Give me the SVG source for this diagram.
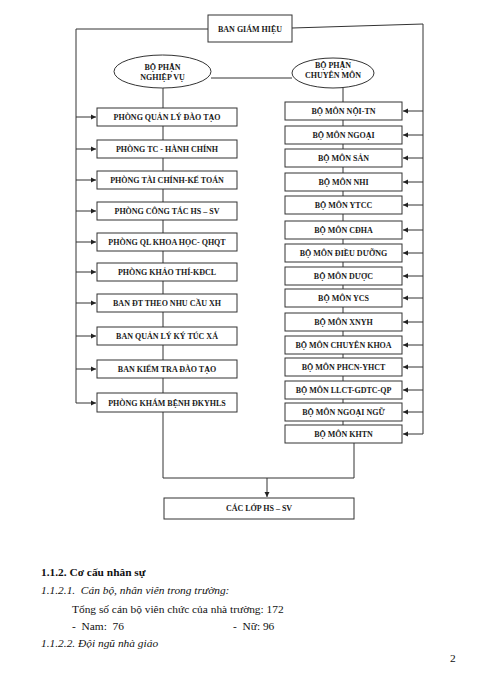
<svg xmlns="http://www.w3.org/2000/svg" width="500" height="681" viewBox="0 0 500 681">
<defs>
<marker id="ah" markerWidth="6" markerHeight="6" refX="5" refY="3" orient="auto" markerUnits="userSpaceOnUse">
<path d="M0,0.5 L5,3 L0,5.5 Z" fill="#222"/>
</marker>
<style>
.ln{stroke:#333;stroke-width:1;fill:none}
.bx{fill:#fff;stroke:#333;stroke-width:1}
.t{font-family:"Liberation Serif","Times New Roman",serif;font-size:8px;fill:#1a1a1a;text-anchor:middle;font-weight:bold}
.p{font-family:"Liberation Serif","Times New Roman",serif;font-size:11.4px;fill:#111}
</style>
</defs>
<rect width="500" height="681" fill="#fff"/>
<g id="connectors">
<polyline class="ln" points="208,29 76,29 76,403"/>
<polyline class="ln" points="292,28 423,24 423,434"/>
<line class="ln" x1="211" y1="78" x2="292" y2="78"/>
<line class="ln" x1="163" y1="88" x2="163" y2="478"/>
<line class="ln" x1="343" y1="88" x2="343" y2="425"/>
<line class="ln" x1="354" y1="443" x2="354" y2="478"/>
<line class="ln" x1="163" y1="478" x2="354" y2="478"/>
<line class="ln" x1="267" y1="478" x2="267" y2="497" marker-end="url(#ah)"/>
<g marker-end="url(#ah)">
<line class="ln" x1="76" y1="117" x2="96" y2="117"/>
<line class="ln" x1="76" y1="149" x2="96" y2="149"/>
<line class="ln" x1="76" y1="180" x2="96" y2="180"/>
<line class="ln" x1="76" y1="211" x2="96" y2="211"/>
<line class="ln" x1="76" y1="242" x2="96" y2="242"/>
<line class="ln" x1="76" y1="272" x2="96" y2="272"/>
<line class="ln" x1="76" y1="303" x2="96" y2="303"/>
<line class="ln" x1="76" y1="336" x2="96" y2="336"/>
<line class="ln" x1="76" y1="369" x2="96" y2="369"/>
<line class="ln" x1="76" y1="403" x2="96" y2="403"/>
<line class="ln" x1="423" y1="111" x2="403" y2="111"/>
<line class="ln" x1="423" y1="135" x2="403" y2="135"/>
<line class="ln" x1="423" y1="158" x2="403" y2="158"/>
<line class="ln" x1="423" y1="182" x2="403" y2="182"/>
<line class="ln" x1="423" y1="205" x2="403" y2="205"/>
<line class="ln" x1="423" y1="230" x2="403" y2="230"/>
<line class="ln" x1="423" y1="253" x2="403" y2="253"/>
<line class="ln" x1="423" y1="276" x2="403" y2="276"/>
<line class="ln" x1="423" y1="298" x2="403" y2="298"/>
<line class="ln" x1="423" y1="322" x2="403" y2="322"/>
<line class="ln" x1="423" y1="345" x2="403" y2="345"/>
<line class="ln" x1="423" y1="367" x2="403" y2="367"/>
<line class="ln" x1="423" y1="390" x2="403" y2="390"/>
<line class="ln" x1="423" y1="412" x2="403" y2="412"/>
<line class="ln" x1="423" y1="434" x2="403" y2="434"/>
</g>
</g>
<g id="ban-giam-hieu"><rect class="bx" x="208" y="15" width="84" height="27"/><text class="t" x="250" y="32">BAN GIÁM HIỆU</text></g>
<g id="bp-nghiep-vu"><ellipse class="bx" cx="162.5" cy="71.5" rx="48.5" ry="16.5"/><text class="t" x="162.5" y="70">BỘ PHẬN</text><text class="t" x="162.5" y="80">NGHIỆP VỤ</text></g>
<g id="bp-chuyen-mon"><ellipse class="bx" cx="333" cy="73" rx="41" ry="15"/><text class="t" x="333" y="68">BỘ PHẬN</text><text class="t" x="333" y="78">CHUYÊN MÔN</text></g>
<g id="l1"><rect class="bx" x="97" y="108" width="140" height="18"/><text class="t" x="167" y="120">PHÒNG QUẢN LÝ ĐÀO TẠO</text></g>
<g id="l2"><rect class="bx" x="97" y="140" width="140" height="18"/><text class="t" x="167" y="152">PHÒNG TC - HÀNH CHÍNH</text></g>
<g id="l3"><rect class="bx" x="97" y="171" width="140" height="18"/><text class="t" x="167" y="183">PHÒNG TÀI CHÍNH-KẾ TOÁN</text></g>
<g id="l4"><rect class="bx" x="97" y="202" width="140" height="18"/><text class="t" x="167" y="214">PHÒNG CÔNG TÁC HS – SV</text></g>
<g id="l5"><rect class="bx" x="97" y="233" width="140" height="18"/><text class="t" x="167" y="245">PHÒNG QL KHOA HỌC- QHQT</text></g>
<g id="l6"><rect class="bx" x="97" y="263" width="140" height="18"/><text class="t" x="167" y="275">PHÒNG KHẢO THÍ-KĐCL</text></g>
<g id="l7"><rect class="bx" x="97" y="294" width="140" height="18"/><text class="t" x="167" y="306">BAN ĐT THEO NHU CẦU XH</text></g>
<g id="l8"><rect class="bx" x="97" y="327" width="140" height="18"/><text class="t" x="167" y="339">BAN QUẢN LÝ KÝ TÚC XÁ</text></g>
<g id="l9"><rect class="bx" x="97" y="360" width="140" height="18"/><text class="t" x="167" y="372">BAN KIỂM TRA ĐÀO TẠO</text></g>
<g id="l10"><rect class="bx" x="97" y="393" width="140" height="19"/><text class="t" x="167" y="406">PHÒNG KHÁM BỆNH ĐKYHLS</text></g>
<g id="r1"><rect class="bx" x="285" y="102" width="117" height="18"/><text class="t" x="343.5" y="114">BỘ MÔN NỘI-TN</text></g>
<g id="r2"><rect class="bx" x="285" y="126" width="117" height="18"/><text class="t" x="343.5" y="138">BỘ MÔN NGOẠI</text></g>
<g id="r3"><rect class="bx" x="285" y="149" width="117" height="18"/><text class="t" x="343.5" y="161">BỘ MÔN SẢN</text></g>
<g id="r4"><rect class="bx" x="285" y="173" width="117" height="18"/><text class="t" x="343.5" y="185">BỘ MÔN NHI</text></g>
<g id="r5"><rect class="bx" x="285" y="196" width="117" height="18"/><text class="t" x="343.5" y="208">BỘ MÔN YTCC</text></g>
<g id="r6"><rect class="bx" x="285" y="221" width="117" height="18"/><text class="t" x="343.5" y="233">BỘ MÔN CĐHA</text></g>
<g id="r7"><rect class="bx" x="285" y="244" width="117" height="18"/><text class="t" x="343.5" y="256">BỘ MÔN ĐIỀU DƯỠNG</text></g>
<g id="r8"><rect class="bx" x="285" y="267" width="117" height="18"/><text class="t" x="343.5" y="279">BỘ MÔN DƯỢC</text></g>
<g id="r9"><rect class="bx" x="285" y="289" width="117" height="18"/><text class="t" x="343.5" y="301">BỘ MÔN YCS</text></g>
<g id="r10"><rect class="bx" x="285" y="313" width="117" height="18"/><text class="t" x="343.5" y="325">BỘ MÔN XNYH</text></g>
<g id="r11"><rect class="bx" x="285" y="336" width="117" height="18"/><text class="t" x="343.5" y="348">BỘ MÔN CHUYÊN KHOA</text></g>
<g id="r12"><rect class="bx" x="285" y="358" width="117" height="18"/><text class="t" x="343.5" y="370">BỘ MÔN PHCN-YHCT</text></g>
<g id="r13"><rect class="bx" x="285" y="381" width="117" height="18"/><text class="t" x="343.5" y="393">BỘ MÔN LLCT-GDTC-QP</text></g>
<g id="r14"><rect class="bx" x="285" y="403" width="117" height="18"/><text class="t" x="343.5" y="415">BỘ MÔN NGOẠI NGỮ</text></g>
<g id="r15"><rect class="bx" x="285" y="425" width="117" height="18"/><text class="t" x="343.5" y="437">BỘ MÔN KHTN</text></g>
<g id="cac-lop"><rect class="bx" x="164" y="498" width="190" height="21"/><text class="t" x="259" y="511">CÁC LỚP HS – SV</text></g>
<g id="page-text">
<text class="p" x="41" y="576" font-weight="bold" font-size="10.6">1.1.2. Cơ cấu nhân sự</text>
<text class="p" x="41" y="594" font-style="italic" xml:space="preserve">1.1.2.1.  Cán bộ, nhân viên trong trường:</text>
<text class="p" x="72" y="613">Tổng số cán bộ viên chức của nhà trường: 172</text>
<text class="p" x="72" y="630" xml:space="preserve">-  Nam:  76</text>
<text class="p" x="233" y="630" xml:space="preserve">-  Nữ: 96</text>
<text class="p" x="41" y="647" font-style="italic">1.1.2.2. Đội ngũ nhà giáo</text>
<text class="p" x="450" y="662">2</text>
</g>
</svg>
